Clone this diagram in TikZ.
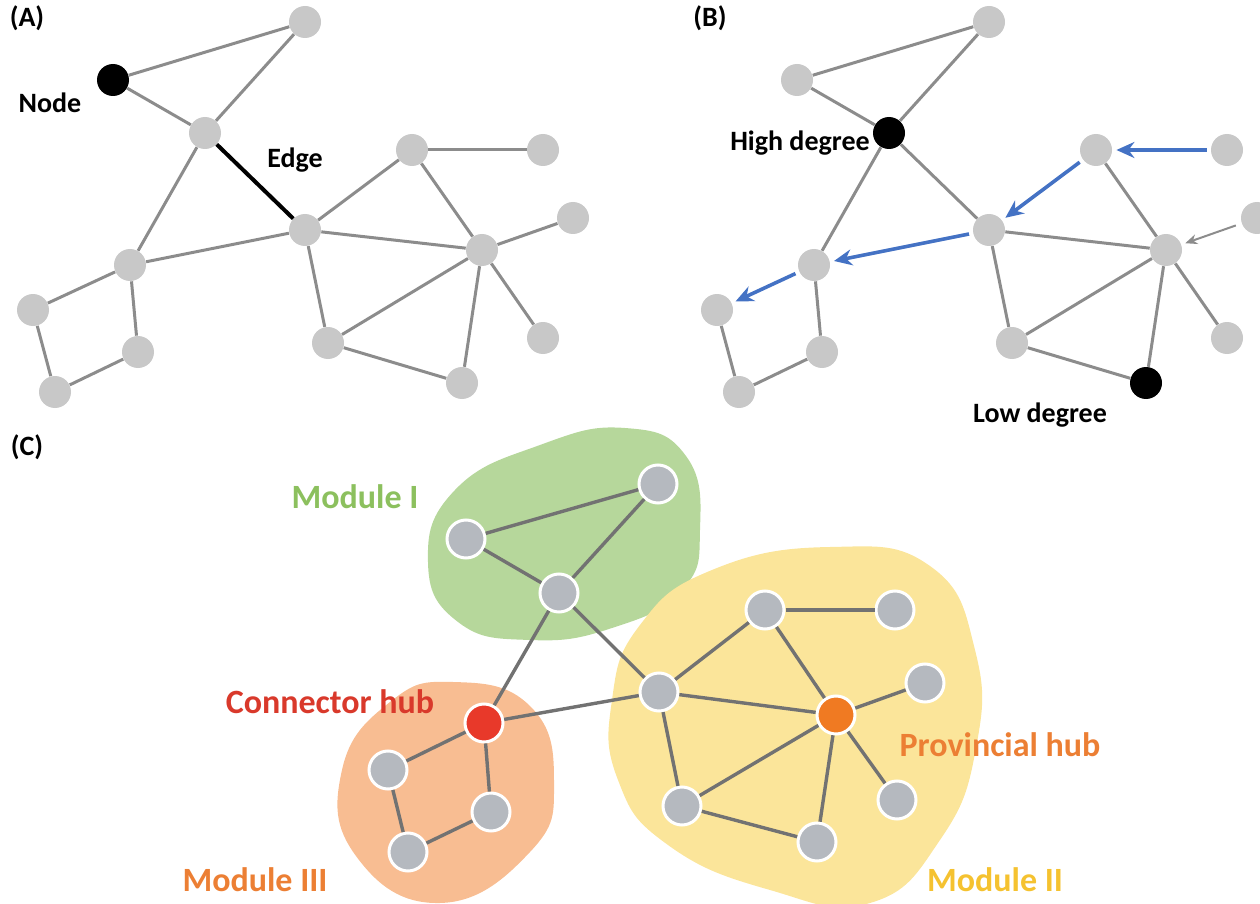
\documentclass[tikz,border=0pt]{standalone}
\usepackage{fontspec}
\setmainfont{Carlito}
\usetikzlibrary{arrows.meta}
\definecolor{ngray}{HTML}{C8C8C8}
\definecolor{egray}{HTML}{8C8C8C}
\definecolor{cgray}{HTML}{B5B9BF}
\definecolor{cedge}{HTML}{727272}
\definecolor{arrblue}{HTML}{4472C4}
\definecolor{blobgreen}{HTML}{B6D79B}
\definecolor{blobyellow}{HTML}{FBE59A}
\definecolor{bloborange}{HTML}{F8BD92}
\definecolor{hubred}{HTML}{E8392A}
\definecolor{huborange}{HTML}{F07A22}
\definecolor{txtgreen}{HTML}{8CC05E}
\definecolor{txtred}{HTML}{D9392B}
\definecolor{txtorange}{HTML}{EC7F34}
\definecolor{txtyellow}{HTML}{F5C230}
\begin{document}
\begin{tikzpicture}[x=0.5pt,y=-0.5pt,
  gn/.style={circle,fill=ngray,minimum size=16pt,inner sep=0pt},
  bn/.style={circle,fill=black,minimum size=16pt,inner sep=0pt},
  cn/.style={circle,fill=cgray,draw=white,line width=1.5pt,minimum size=19pt,inner sep=0pt},
  ed/.style={draw=egray,line width=1.5pt},
  ced/.style={draw=cedge,line width=1.7pt},
  barr/.style={draw=arrblue,line width=1.8pt,-{Stealth[length=9pt,width=8pt]},shorten <=2pt,shorten >=2pt},
  garr/.style={draw=egray,line width=1pt,-{Stealth[length=6pt,width=5pt]},shorten <=3pt,shorten >=2pt},
  lab/.style={font=\bfseries\fontsize{14}{16}\selectfont},
  clab/.style={font=\bfseries\fontsize{17}{19}\selectfont}]
\useasboundingbox (0,0) rectangle (1260,904);
% ---------- Panel A ----------
\node[lab] (tA) at (27,18) {(A)};
\node[bn] (a1) at (113,80) {};
\node[gn] (a2) at (305,22) {};
\node[gn] (a3) at (205,133) {};
\node[gn] (a4) at (305,230) {};
\node[gn] (a5) at (130,265) {};
\node[gn] (a6) at (33,310) {};
\node[gn] (a7) at (138,352) {};
\node[gn] (a8) at (55,392) {};
\node[gn] (a9) at (412,150) {};
\node[gn] (a10) at (543,150) {};
\node[gn] (a11) at (482,250) {};
\node[gn] (a12) at (573,218) {};
\node[gn] (a13) at (328,343) {};
\node[gn] (a14) at (462,383) {};
\node[gn] (a15) at (543,338) {};
\node[lab] (lnode) at (50,103) {Node};
\node[lab] (ledge) at (295,160) {Edge};
\foreach \u/\v in {a1/a2,a1/a3,a2/a3,a3/a5,a5/a4,a5/a6,a5/a7,a6/a8,a8/a7,a4/a9,a4/a11,a4/a13,a9/a10,a9/a11,a11/a12,a11/a13,a11/a15,a11/a14,a13/a14}
  \draw[ed] (\u) -- (\v);
\draw[line width=2pt] (a3) -- (a4);
% ---------- Panel B ----------
\node[lab] (tB) at (710,18) {(B)};
\node[gn] (b1) at (797,80) {};
\node[gn] (b2) at (989,22) {};
\node[bn] (b3) at (889,133) {};
\node[gn] (b4) at (989,230) {};
\node[gn] (b5) at (814,265) {};
\node[gn] (b6) at (717,310) {};
\node[gn] (b7) at (822,352) {};
\node[gn] (b8) at (739,392) {};
\node[gn] (b9) at (1096,150) {};
\node[gn] (b10) at (1227,150) {};
\node[gn] (b11) at (1166,250) {};
\node[gn] (b12) at (1257,218) {};
\node[gn] (b13) at (1012,343) {};
\node[bn] (b14) at (1146,383) {};
\node[gn] (b15) at (1227,338) {};
\node[lab] (lhigh) at (800,143) {High degree};
\node[lab] (llow) at (1040,415) {Low degree};
\foreach \u/\v in {b1/b2,b1/b3,b2/b3,b3/b5,b3/b4,b5/b7,b6/b8,b8/b7,b4/b11,b4/b13,b9/b11,b11/b13,b11/b15,b11/b14,b13/b14}
  \draw[ed] (\u) -- (\v);
\draw[barr,line width=2.4pt] (b10) -- (b9);
\draw[barr] (b9) -- (b4);
\draw[barr] (b4) -- (b5);
\draw[barr] (b5) -- (b6);
\draw[garr] (b12) -- (b11);
% ---------- Panel C ----------
\node[lab] (tC) at (27,447) {(C)};
\fill[blobgreen] plot[smooth cycle,tension=0.8] coordinates {(428,562) (455,490) (540,445) (625,428) (686,456) (700,530) (682,590) (612,628) (530,640) (458,622)};
\fill[blobyellow] plot[smooth cycle,tension=0.8] coordinates {(612,700) (640,625) (712,570) (830,547) (930,566) (975,650) (976,748) (940,840) (870,903) (770,890) (668,845) (618,780)};
\fill[bloborange] plot[smooth cycle,tension=0.8] coordinates {(453,682) (530,706) (554,782) (530,852) (440,903) (356,856) (342,770) (390,702)};
\node[cn] (c1) at (466,539) {};
\node[cn] (c2) at (658,484) {};
\node[cn] (c3) at (559,593) {};
\node[cn,fill=hubred] (c4) at (484,723) {};
\node[cn] (c5) at (388,770) {};
\node[cn] (c6) at (491,812) {};
\node[cn] (c7) at (408,852) {};
\node[cn] (c8) at (659,692) {};
\node[cn] (c9) at (765,610) {};
\node[cn] (c10) at (895,610) {};
\node[cn,fill=huborange] (c11) at (836,715) {};
\node[cn] (c12) at (925,683) {};
\node[cn] (c13) at (682,806) {};
\node[cn] (c14) at (897,800) {};
\node[cn] (c15) at (817,842) {};
\foreach \u/\v in {c1/c2,c1/c3,c2/c3,c3/c4,c3/c8,c4/c8,c4/c5,c4/c6,c5/c7,c7/c6,c8/c9,c8/c11,c8/c13,c9/c10,c9/c11,c11/c12,c11/c14,c11/c15,c11/c13,c13/c15}
  \draw[ced] (\u) -- (\v);
\node[clab,text=txtgreen] (lm1) at (355,497) {Module I};
\node[clab,text=txtred] (lch) at (330,702) {Connector hub};
\node[clab,text=txtorange] (lph) at (1000,745) {Provincial hub};
\node[clab,text=txtorange] (lm3) at (255,880) {Module III};
\node[clab,text=txtyellow] (lm2) at (995,880) {Module II};
\end{tikzpicture}
\end{document}
